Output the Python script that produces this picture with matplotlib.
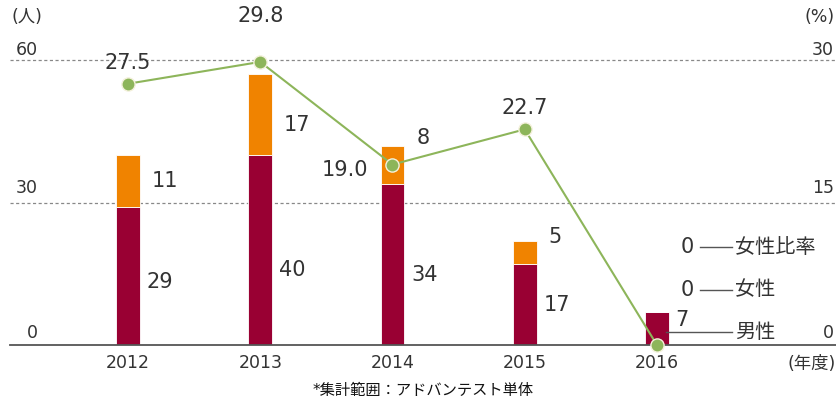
import matplotlib
matplotlib.use("Agg")
import matplotlib.pyplot as plt

plt.rcParams['font.family'] = ['DejaVu Sans', 'Noto Sans CJK JP']

# 新卒採用者数（人）と女性比率（%）
years = ['2012', '2013', '2014', '2015', '2016']
male = [29, 40, 34, 17, 7]
female = [11, 17, 8, 5, 0]
female_rate = [27.5, 29.8, 19.0, 22.7, 0]

# ラベル位置（人の軸の値）
male_label_y = [13.3, 15.8, 14.7, 8.4, 5.3]
female_label_y = [34.5, 46.3, 43.6, 22.7, None]

C_MALE = '#990033'
C_FEMALE = '#f08300'
C_LINE = '#8db55a'
C_TEXT = '#333333'

W, H = 837, 405
fig = plt.figure(figsize=(W / 100, H / 100), dpi=100)

def px(x, y):
    return x / W, 1 - y / H

ax = fig.add_axes([10 / W, 60 / H, 827 / W, 285 / H])
ax2 = ax.twinx()

xs = list(range(len(years)))
bw = 0.18
ax.bar(xs, male, bw, color=C_MALE, edgecolor='white', linewidth=0.6, zorder=2)
ax.bar(xs, female, bw, bottom=male, color=C_FEMALE, edgecolor='white', linewidth=0.6, zorder=2)

xmin = -0.892
ax.set_xlim(xmin, xmin + 827 / 132.25)
ax.set_ylim(0, 60)
ax2.set_ylim(0, 30)

# 点線グリッド
for v in (30, 60):
    ax.axhline(v, color='#888888', lw=0.9, ls=(0, (2.5, 2)), zorder=1, clip_on=False)
ax.axhline(0, color='#555555', lw=1.3, zorder=3, clip_on=False)

for a in (ax, ax2):
    for s in a.spines.values():
        s.set_visible(False)
    a.set_xticks([])
    a.set_yticks([])

# 女性比率の折れ線
ax2.plot(xs, female_rate, color=C_LINE, lw=1.5, marker='o', ms=9.5,
         markerfacecolor=C_LINE, markeredgecolor='#f4f1dc', markeredgewidth=1.0,
         zorder=5, clip_on=False)

def xd(p):
    return xmin + (p - 10) / 132.25

fs_val = 15
# 人数ラベル
for i in range(len(years)):
    ax.text(i + bw / 2 + 0.05, male_label_y[i], str(male[i]), fontsize=fs_val,
            color=C_TEXT, va='center', ha='left')
    if female_label_y[i] is not None:
        ax.text(i + bw / 2 + 0.09, female_label_y[i], str(female[i]), fontsize=fs_val,
                color=C_TEXT, va='center', ha='left')

# 比率ラベル
rate_offsets = [(0, 21, 'center'), (0, 46, 'center'), (-24, -5, 'right'), (0, 21, 'center')]
for i, (dx, dy, ha) in enumerate(rate_offsets):
    ax2.annotate(f'{female_rate[i]:.1f}', (i, female_rate[i]), xytext=(dx, dy),
                 textcoords='offset pixels', fontsize=fs_val, color=C_TEXT,
                 ha=ha, va='center')

# 2016年の凡例風ラベル
fs_leg = 14.5
ax.text(xd(681), 20.6, f'{female_rate[4]:.0f}', fontsize=fs_val, color=C_TEXT, va='center')
ax.plot([xd(700), xd(732)], [20.6, 20.6], color='#555555', lw=1.0, clip_on=False)
ax.text(xd(735), 20.6, '女性比率', fontsize=fs_leg, color=C_TEXT, va='center')
ax.text(xd(681), 11.6, f'{female[4]}', fontsize=fs_val, color=C_TEXT, va='center')
ax.plot([xd(700), xd(732)], [11.6, 11.6], color='#555555', lw=1.0, clip_on=False)
ax.text(xd(735), 11.6, '女性', fontsize=fs_leg, color=C_TEXT, va='center')
ax.plot([4 + bw / 2 - 0.02, xd(732)], [2.7, 2.7], color='#555555', lw=1.0, clip_on=False, zorder=4)
ax.text(xd(735), 2.7, '男性', fontsize=fs_leg, color=C_TEXT, va='center')

# 軸ラベル
fs_tick = 12.5
for i, y in enumerate(years):
    fig.text(*px(128 + 132.25 * i, 363), y, fontsize=fs_tick, color=C_TEXT, ha='center', va='center')
for v, py in ((60, 50), (30, 188), (0, 333)):
    fig.text(*px(38, py), str(v), fontsize=fs_tick, color=C_TEXT, ha='right', va='center')
for v, py in ((30, 50), (15, 188), (0, 333)):
    fig.text(*px(834, py), str(v), fontsize=fs_tick, color=C_TEXT, ha='right', va='center')
fig.text(*px(12, 17), '(人)', fontsize=fs_tick, color=C_TEXT, ha='left', va='center')
fig.text(*px(835, 17), '(%)', fontsize=fs_tick, color=C_TEXT, ha='right', va='center')
fig.text(*px(836, 364), '(年度)', fontsize=fs_tick, color=C_TEXT, ha='right', va='center')
fig.text(*px(423, 391), '*集計範囲：アドバンテスト単体', fontsize=11, color='#111111',
         ha='center', va='center')

fig.savefig('out.png', dpi=100)
